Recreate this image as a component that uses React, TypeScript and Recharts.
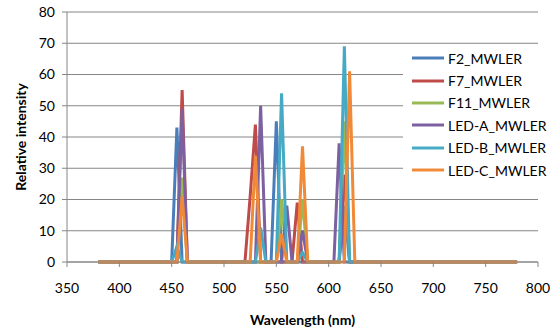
import {
    LineChart,
    Line,
    XAxis,
    YAxis,
    CartesianGrid,
    Legend,
} from 'recharts';

// sampled wavelengths (nm); every value outside these points is 0
const wavelengths = [380, 445, 450, 455, 460, 465, 515, 520, 525, 530, 535, 540, 545, 550, 555, 560, 565, 570, 575, 580, 600, 605, 610, 615, 620, 625, 780];

const f2 = [0, 0, 0, 43, 0, 0, 0, 0, 0, 0, 0, 0, 0, 45, 0, 0, 0, 0, 0, 0, 0, 0, 0, 18, 0, 0, 0];
const f7 = [0, 0, 0, 0, 55, 0, 0, 0, 21, 44, 0, 0, 0, 0, 0, 0, 0, 19, 0, 0, 0, 0, 0, 28, 0, 0, 0];
const f11 = [0, 0, 0, 0, 27, 0, 0, 0, 0, 0, 0, 0, 0, 0, 20, 0, 0, 0, 20, 0, 0, 0, 0, 45, 0, 0, 0];
const ledA = [0, 0, 0, 0, 49, 0, 0, 0, 0, 0, 50, 0, 0, 0, 0, 18, 0, 0, 10, 0, 0, 0, 38, 0, 0, 0, 0];
const ledB = [0, 0, 0, 5, 0, 0, 0, 0, 0, 0, 11, 0, 0, 0, 54, 0, 0, 0, 3, 0, 0, 0, 0, 69, 0, 0, 0];
const ledC = [0, 0, 0, 0, 21, 0, 0, 0, 0, 34, 0, 0, 0, 0, 9, 0, 0, 0, 37, 0, 0, 0, 0, 0, 61, 0, 0];

const xTicks = [350, 400, 450, 500, 550, 600, 650, 700, 750, 800];
const yTicks = [0, 10, 20, 30, 40, 50, 60, 70, 80];

const series = [
    { key: 'F2_MWLER', values: f2, color: '#4A7EBB' },
    { key: 'F7_MWLER', values: f7, color: '#BE4B48' },
    { key: 'F11_MWLER', values: f11, color: '#98B954' },
    { key: 'LED-A_MWLER', values: ledA, color: '#7D60A0' },
    { key: 'LED-B_MWLER', values: ledB, color: '#46AAC5' },
    { key: 'LED-C_MWLER', values: ledC, color: '#F08A38' },
];

const chartData = wavelengths.map((wl, i) => {
    const row: Record<string, number> = { wl };
    series.forEach((s) => {
        row[s.key] = s.values[i];
    });
    return row;
});

const axisColor = '#868686';
const font = 'Lato, "Open Sans", sans-serif';

function SeriesLegend() {
    return (
        <div style={{ paddingTop: 0, paddingLeft: 9, whiteSpace: 'nowrap' }}>
            {series.map((s) => (
                <div key={s.key} style={{ display: 'flex', alignItems: 'center', height: 22.4 }}>
                    <svg width={32} height={6} style={{ marginRight: 4, flexShrink: 0 }}>
                        <line x1={0} y1={3} x2={32} y2={3} stroke={s.color} strokeWidth={3} />
                    </svg>
                    <span style={{ fontSize: 14, color: '#000', fontFamily: font }}>{s.key}</span>
                </div>
            ))}
        </div>
    );
}

export default function App() {
    return (
        <div style={{ position: 'absolute', left: 0, top: 0, fontFamily: font, background: '#fff' }}>
            <LineChart
                width={555}
                height={331}
                data={chartData}
                margin={{ top: 12, right: 17, left: 0, bottom: 0 }}
            >
                <CartesianGrid vertical={false} stroke={axisColor} strokeWidth={1} />
                <XAxis
                    dataKey="wl"
                    type="number"
                    domain={[350, 800]}
                    ticks={xTicks}
                    height={69}
                    stroke={axisColor}
                    tickSize={5}
                    tickMargin={16}
                    tick={{ fill: '#000', fontSize: 14 }}
                    label={{
                        value: 'Wavelength (nm)',
                        position: 'insideBottom',
                        offset: 6,
                        style: { fontWeight: 700, fontSize: 14, fill: '#000' },
                    }}
                />
                <YAxis
                    type="number"
                    domain={[0, 80]}
                    ticks={yTicks}
                    width={67}
                    stroke={axisColor}
                    tickSize={5}
                    tickMargin={7}
                    tick={{ fill: '#000', fontSize: 14 }}
                    label={{
                        value: 'Relative intensity',
                        angle: -90,
                        position: 'insideLeft',
                        offset: 21,
                        style: { textAnchor: 'middle', fontWeight: 700, fontSize: 14, fill: '#000' },
                    }}
                />
                <Legend
                    layout="horizontal"
                    verticalAlign="middle"
                    align="center"
                    wrapperStyle={{ left: 403, top: 47, width: 145, height: 145, background: '#fff' }}
                    content={SeriesLegend}
                />
                {series.map((s) => (
                    <Line
                        key={s.key}
                        dataKey={s.key}
                        name={s.key}
                        stroke={s.color}
                        strokeWidth={3}
                        dot={false}
                        type="linear"
                        isAnimationActive={false}
                    />
                ))}
            </LineChart>
        </div>
    );
}
